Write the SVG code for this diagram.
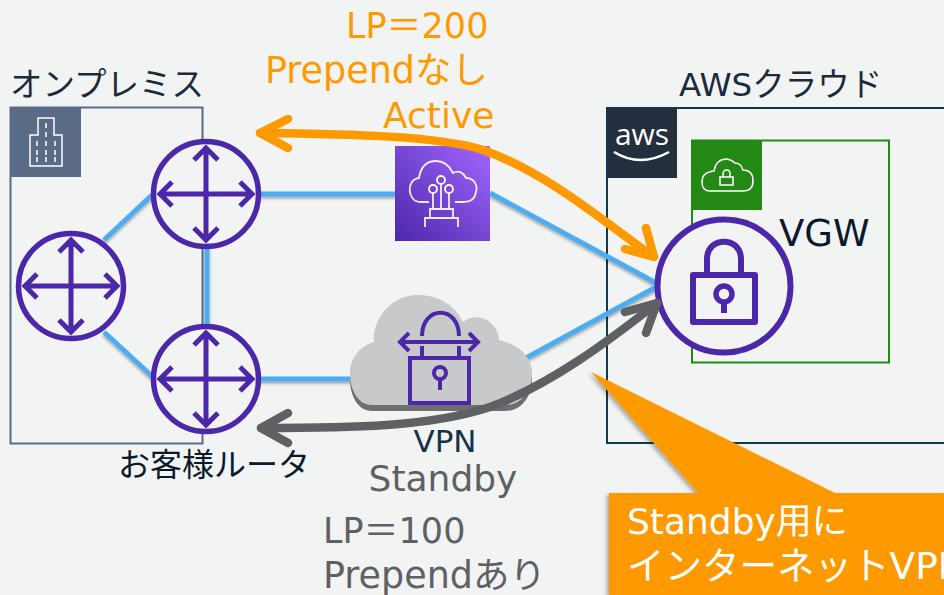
<svg xmlns="http://www.w3.org/2000/svg" width="944" height="595" viewBox="0 0 944 595">
<defs>
<style>
.t{font-family:"DejaVu Sans","Noto Sans CJK JP",sans-serif}
.p{fill:none;stroke:#4d27aa;stroke-width:5;stroke-linecap:butt;stroke-linejoin:miter}
.c{fill:#f2f4f4;stroke:#4d27aa;stroke-width:5.500}
.w{fill:none;stroke:#fff;stroke-width:1.500}
.b{fill:none;stroke:#4dadf0;stroke-width:5}
</style>
<linearGradient id="g" x1="0" y1="1" x2="1" y2="0"><stop offset="0" stop-color="#4d27aa"/><stop offset="1" stop-color="#a166ff"/></linearGradient>
<filter id="s" x="-20%" y="-20%" width="140%" height="140%"><feDropShadow dx="0" dy="2" stdDeviation="1.500" flood-color="#000" flood-opacity=".35"/></filter>
<filter id="s2" x="-10%" y="-10%" width="120%" height="120%"><feDropShadow dx="-2" dy="2" stdDeviation="2" flood-color="#000" flood-opacity=".35"/></filter>
<g id="arr"><circle class="c" r="52.500"/><path class="p" d="M0-46V46M-46 0H46M-12-34L0-46L12-34M-12 34L0 46L12 34M-34-12L-46 0L-34 12M34-12L46 0L34 12"/></g>
</defs>
<rect width="944" height="595" fill="#f2f4f4"/>
<g id="onprem">
<rect x="10.500" y="107.500" width="192" height="336" fill="none" stroke="#5a6b86" stroke-width="2"/>
<rect x="10" y="107" width="71" height="70" fill="#5a6b86"/>
<path class="w" d="M30 166V135H38V118H54V135H62V166ZM46 123v5M46 132v5M37 141v5M46 141v5M55 141v5M37 150v5M46 150v5M55 150v5M37 157v5M46 157v5M55 157v5"/>
<text class="t" x="10" y="96" font-size="32.500" fill="#1b2b3d">オンプレミス</text>
</g>
<g id="aws">
<path d="M944 108H607V443H944" fill="none" stroke="#0f3a4d" stroke-width="2"/>
<rect x="607" y="108" width="70" height="70" fill="#232f3e"/>
<text x="642" y="145" font-size="30" fill="#fff" text-anchor="middle" font-family="'Open Sans',sans-serif">aws</text>
<path d="M614 152Q640 168 669 152" fill="none" stroke="#fff" stroke-width="2.500"/>
<text class="t" x="679" y="96" font-size="32.500" fill="#1b2b3d">AWSクラウド</text>
</g>
<g id="vgw-box">
<rect x="692" y="140.500" width="197" height="222" fill="none" stroke="#248814" stroke-width="2"/>
<rect x="692" y="140" width="70" height="70" fill="#248814"/>
<path class="w" d="M710 191H743Q753 191 753 181Q753 170 743 170Q741 163 735 163Q732 160 727 159Q716 159 714 171Q702 172 702 182Q702 191 710 191ZM720 177H733V185H720ZM723 177V174Q723 170 727 170Q730 170 730 174V177"/>
<text class="t" x="779" y="246" font-size="37" fill="#0b1a2b">VGW</text>
</g>
<g id="connectors">
<g class="b" filter="url(#s)">
<path d="M104 240L152 195M104 332L154 378M207 248V326M258 194H396M258 379H352M490 193L658 284M526 358L658 286"/>
</g>
</g>
<g id="r1"><use href="#arr" x="206" y="194"/></g>
<g id="r2"><use href="#arr" x="71" y="286"/></g>
<g id="r3"><use href="#arr" x="206" y="379"/></g>
<g id="tgw">
<rect x="395" y="146" width="95" height="95" fill="url(#g)"/>
<path d="M429 202H420C408 202 405 180 419 178C421 165 428 161 436 161C445 161 450 167 453 173C458 170 463 172 466 178C474 178 478 185 476 192C475 199 470 202 464 202H455M433 193V208M441 184V208M449 193V208M430 209H453V218H430ZM425 227V218H458V227" fill="none" stroke="#fff" stroke-opacity=".9" stroke-width="1.800"/>
<circle cx="433" cy="189" r="4" fill="none" stroke="#fff" stroke-width="1.800"/><circle cx="441" cy="180" r="4" fill="none" stroke="#fff" stroke-width="1.800"/><circle cx="449" cy="189" r="4" fill="none" stroke="#fff" stroke-width="1.800"/>
</g>
<g id="vpn">
<path transform="translate(0,6)" d="M372 405C358 405 350 390 350 373C350 358 360 346 374 342C372 318 392 295 418 295C438 295 455 305 463 322C470 316 480 316 487 320C495 325 499 333 499 340C518 344 532 356 532 373C532 390 522 405 505 405Z" fill="#6e6f71"/>
<path d="M372 405C358 405 350 390 350 373C350 358 360 346 374 342C372 318 392 295 418 295C438 295 455 305 463 322C470 316 480 316 487 320C495 325 499 333 499 340C518 344 532 356 532 373C532 390 522 405 505 405Z" fill="#c8c9ca"/>
<path class="p" style="stroke-width:4" d="M410 403V358H469V403ZM422 356V346M459 356V346M422 336C422 305 459 305 459 336M401 342H477M409 333L400 342L409 351M469 333L478 342L469 351M440 390V379"/>
<circle cx="440" cy="373" r="6" fill="none" stroke="#4d27aa" stroke-width="4"/>
</g>
<g id="vgw">
<circle class="c" style="stroke-width:6" cx="724" cy="286" r="66.500"/>
<path class="p" style="stroke-width:6;stroke-linejoin:round" d="M693 275H755V322H693ZM707 275V259C707 236 741 236 741 259V275M724 313V301"/>
<circle cx="724" cy="294" r="8" fill="none" stroke="#4d27aa" stroke-width="5.500"/>
</g>
<g id="flows" fill="none" stroke-width="8.500" stroke-linecap="round" stroke-linejoin="round">
<path stroke="#ff9900" d="M260 133C350 134 440 136 483 150C545 172 600 218 652 256"/>
<path stroke="#ff9900" d="M288 119L260 133L288 148M625 249L654 257L646 228"/>
<path stroke="#5f6063" d="M261 428C350 428 430 427 490 407C550 385 610 340 657 303"/>
<path stroke="#5f6063" d="M288 413L261 428L288 443M625 312L657 303L646 333"/>
</g>
<g id="labels" class="t">
<text x="346" y="38" font-size="35" fill="#ff9900">LP＝200</text>
<text x="265" y="83" font-size="36.500" fill="#ff9900">Prependなし</text>
<text x="383" y="128" font-size="36" fill="#ff9900">Active</text>
<text x="118" y="476" font-size="32" fill="#0b1a2b">お客様ルータ</text>
<text x="445" y="452" font-size="31" fill="#16324a" text-anchor="middle">VPN</text>
<text x="443" y="491" font-size="36" fill="#5f6063" text-anchor="middle">Standby</text>
<text x="323" y="543" font-size="35" fill="#5f6063">LP＝100</text>
<text x="323" y="588" font-size="36.500" fill="#5f6063">Prependあり</text>
</g>
<g id="callout">
<path d="M591 372L835 493H944V595H609V493H698Z" fill="#ff9900" filter="url(#s2)"/>
<text class="t" x="627" y="534" font-size="36" fill="#fff">Standby用に</text>
<text class="t" x="627" y="579" font-size="37.500" fill="#fff">インターネットVPN</text>
</g>
</svg>
